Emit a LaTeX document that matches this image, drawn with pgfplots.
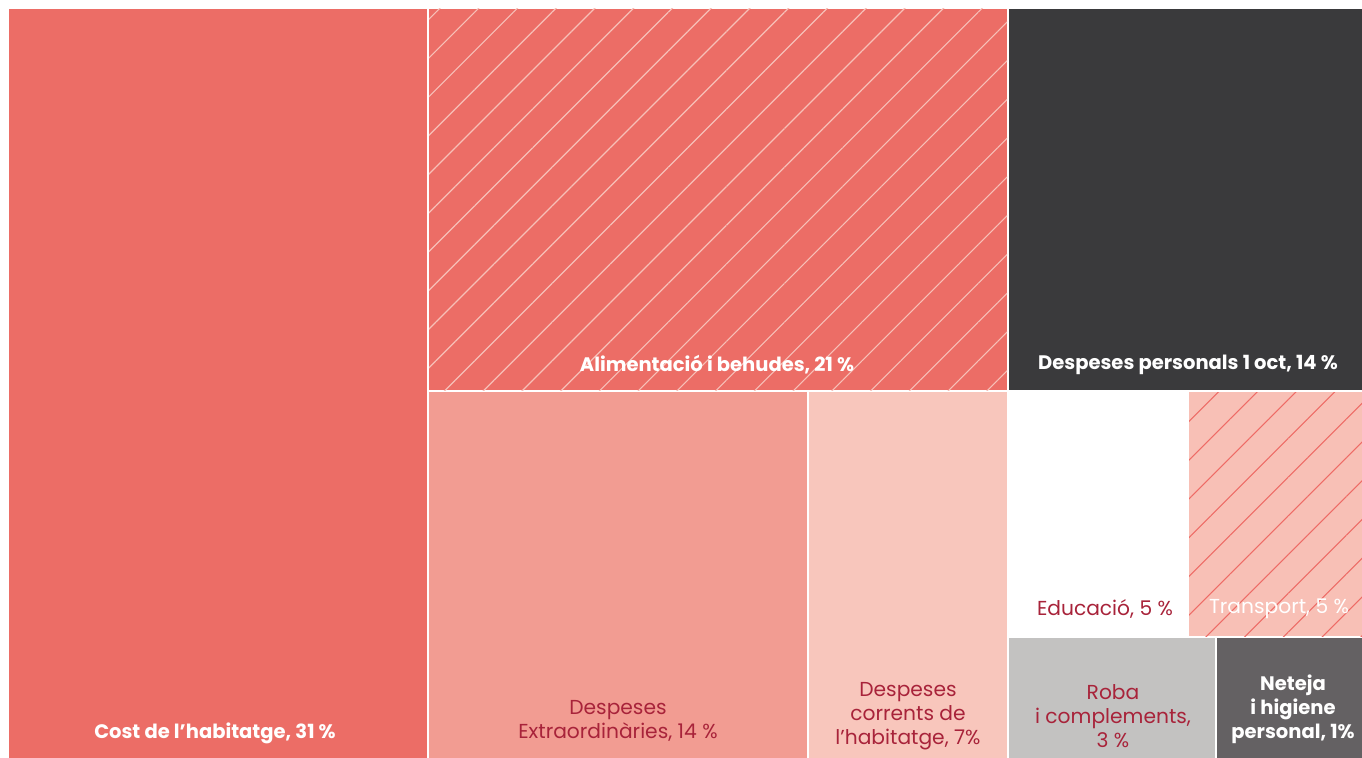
\documentclass[border=0pt]{standalone}
\usepackage{pgfplots}
\pgfplotsset{compat=1.18}
\usepackage{fontspec}
\setmainfont{Poppins}
\usetikzlibrary{patterns.meta}
\definecolor{cRed}{RGB}{236,109,102}
\definecolor{cDark}{RGB}{58,58,60}
\definecolor{cExtra}{RGB}{242,156,146}
\definecolor{cCorr}{RGB}{248,198,188}
\definecolor{cTrans}{RGB}{248,192,182}
\definecolor{cTransLine}{RGB}{238,107,102}
\definecolor{cRoba}{RGB}{195,194,193}
\definecolor{cNet}{RGB}{100,97,99}
\definecolor{cTxt}{RGB}{168,35,58}
\definecolor{cHatch}{RGB}{247,192,184}
\begin{document}
\begin{tikzpicture}
\begin{axis}[
  width=1362bp, height=758bp, scale only axis,
  xmin=0, xmax=1362, ymin=0, ymax=758, y dir=reverse,
  hide axis, clip=true,
]
% background
\addplot[fill=white, draw=none] coordinates {(0,0) (1362,0) (1362,758) (0,758)} --cycle;
% Cost de l'habitatge 31
\addplot[fill=cRed, draw=none] coordinates {(9,9) (427,9) (427,758) (9,758)} --cycle;
% Alimentacio 21
\addplot[fill=cRed, draw=none] coordinates {(429,9) (1007,9) (1007,390) (429,390)} --cycle;
\addplot[draw=none, pattern={Lines[angle=45,distance=27.5pt,line width=1.1pt]}, pattern color=cHatch] coordinates {(429,9) (1007,9) (1007,390) (429,390)} --cycle;
% Despeses personals 14
\addplot[fill=cDark, draw=none] coordinates {(1009,9) (1362,9) (1362,390) (1009,390)} --cycle;
% Despeses extraordinaries 14
\addplot[fill=cExtra, draw=none] coordinates {(429,392) (807,392) (807,758) (429,758)} --cycle;
% Despeses corrents 7
\addplot[fill=cCorr, draw=none] coordinates {(809,392) (1007,392) (1007,758) (809,758)} --cycle;
% Educacio 5
\addplot[fill=white, draw=none] coordinates {(1009,392) (1187,392) (1187,636) (1009,636)} --cycle;
% Transport 5
\addplot[fill=cTrans, draw=none] coordinates {(1189,392) (1362,392) (1362,636) (1189,636)} --cycle;
\addplot[draw=none, pattern={Lines[angle=45,distance=27.5pt,line width=1.1pt]}, pattern color=cTransLine] coordinates {(1189,392) (1362,392) (1362,636) (1189,636)} --cycle;
% Roba 3
\addplot[fill=cRoba, draw=none] coordinates {(1009,638) (1215,638) (1215,758) (1009,758)} --cycle;
% Neteja 1
\addplot[fill=cNet, draw=none] coordinates {(1217,638) (1362,638) (1362,758) (1217,758)} --cycle;

\tikzset{lab/.style={align=center, inner sep=0pt, font=\fontsize{20.3}{24}\selectfont},
         blab/.style={align=center, inner sep=0pt, text=white, font=\bfseries\fontsize{19.6}{24}\selectfont}}
\node[blab] at (axis cs:215,733) {Cost de l’habitatge, 31 \%};
\node[blab] at (axis cs:717,365) {Alimentació i behudes, 21 \%};
\node[blab] at (axis cs:1188,365) {Despeses personals 1 oct, 14 \%};
\node[lab, text=cTxt] at (axis cs:618,721) {Despeses\\Extraordinàries, 14 \%};
\node[lab, text=cTxt] at (axis cs:908,716) {Despeses\\corrents de\\l’habitatge, 7\%};
\node[lab, text=cTxt] at (axis cs:1105,609) {Educació, 5 \%};
\node[lab, text=white] at (axis cs:1279,609) {Transport, 5 \%};
\node[lab, text=cTxt] at (axis cs:1113,716) {Roba\\i complements,\\3 \%};
\node[blab] at (axis cs:1293,709) {Neteja\\i higiene\\personal, 1\%};
\end{axis}
\end{tikzpicture}
\end{document}
